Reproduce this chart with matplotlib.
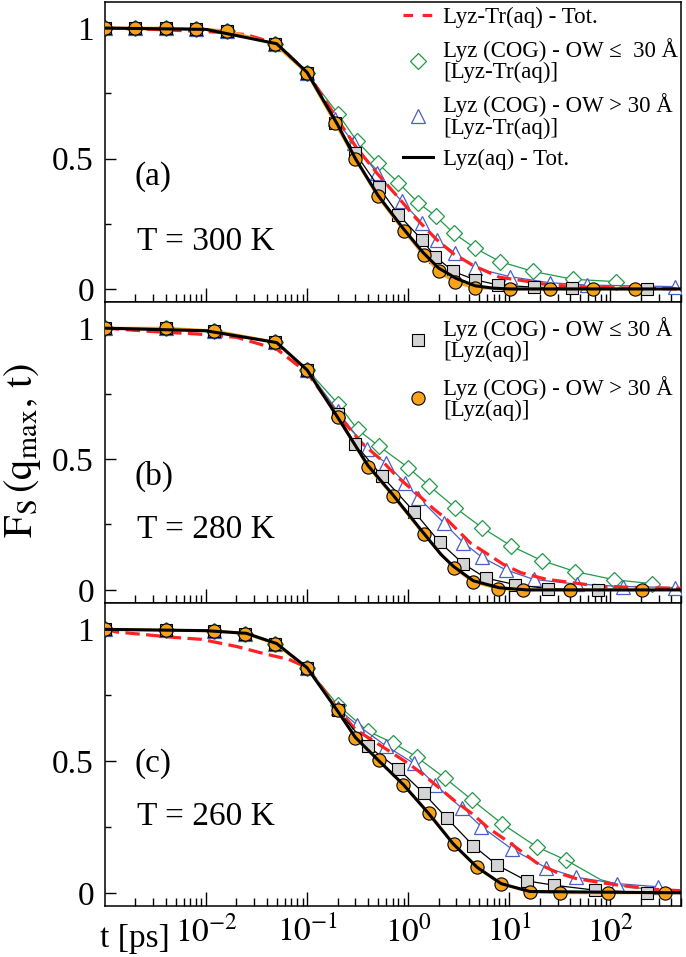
import numpy as np
import matplotlib
matplotlib.use("Agg")
import matplotlib.pyplot as plt
from matplotlib.lines import Line2D
from matplotlib.ticker import FixedLocator, NullFormatter, FixedFormatter

plt.rcParams['font.family'] = ['Liberation Serif', 'DejaVu Serif']
plt.rcParams['mathtext.fontset'] = 'stix'

# ---------------- data: T = 300 K ----------------
t_circ_300 = [0.001, 0.002, 0.004, 0.008, 0.016, 0.048, 0.1, 0.19, 0.3, 0.5, 0.9, 1.42, 2.0, 2.9, 4.6, 10.2, 25, 68, 174]
F_circ_300 = [1.0, 1.0, 1.0, 0.997, 0.99, 0.938, 0.827, 0.635, 0.499, 0.355, 0.224, 0.131, 0.067, 0.026, 0.004, 0.0, 0.0, 0.0, 0.0]
t_sq_300 = [0.001, 0.002, 0.004, 0.008, 0.016, 0.048, 0.1, 0.19, 0.3, 0.51, 0.80, 1.37, 1.85, 2.8, 4.6, 7.8, 17.4, 42, 230]
F_sq_300 = [1.0, 1.0, 1.0, 0.997, 0.99, 0.938, 0.827, 0.635, 0.52, 0.391, 0.285, 0.188, 0.124, 0.067, 0.035, 0.015, 0.007, 0.003, 0.0]
t_dia_300 = [0.001, 0.002, 0.004, 0.008, 0.016, 0.048, 0.1, 0.204, 0.31, 0.497, 0.80, 1.26, 1.89, 2.81, 4.6, 8.1, 17.2, 43, 115]
F_dia_300 = [1.0, 1.0, 1.0, 0.997, 0.99, 0.938, 0.827, 0.669, 0.567, 0.483, 0.407, 0.33, 0.278, 0.214, 0.156, 0.105, 0.067, 0.037, 0.028]
t_tri_300 = [0.001, 0.002, 0.004, 0.008, 0.016, 0.048, 0.1, 0.19, 0.29, 0.49, 0.86, 1.37, 1.92, 2.92, 4.6, 10.2, 25, 59, 440]
F_tri_300 = [1.0, 1.0, 1.0, 0.997, 0.99, 0.938, 0.827, 0.65, 0.56, 0.445, 0.336, 0.253, 0.188, 0.137, 0.080, 0.047, 0.024, 0.015, 0.009]
t_red_300 = [0.001, 0.003, 0.006, 0.012, 0.025, 0.05, 0.1, 0.21, 0.31, 0.5, 0.8, 1.2, 1.9, 2.8, 4.4, 8, 13, 25, 60, 200, 500]
F_red_300 = [1.0, 0.995, 0.99, 0.985, 0.975, 0.94, 0.83, 0.637, 0.54, 0.44, 0.35, 0.27, 0.19, 0.135, 0.09, 0.045, 0.033, 0.015, 0.007, 0.002, 0.0]
t_blk_300 = [0.001, 0.01, 0.05, 0.1, 0.2, 0.3, 0.5, 0.9, 1.4, 2.0, 3.0, 4.6, 7, 10, 500]
F_blk_300 = [1.0, 0.995, 0.94, 0.83, 0.63, 0.5, 0.36, 0.23, 0.14, 0.08, 0.04, 0.012, 0.003, 0.0, 0.0]

# ---------------- data: T = 280 K ----------------
t_circ_280 = [0.001, 0.004, 0.012, 0.048, 0.1, 0.2, 0.40, 0.71, 1.42, 2.81, 4.4, 7.8, 13.8, 40, 205]
F_circ_280 = [1.0, 1.0, 0.99, 0.947, 0.842, 0.662, 0.471, 0.359, 0.213, 0.085, 0.031, 0.005, 0.0, 0.0, 0.0]
t_sq_280 = [0.001, 0.004, 0.012, 0.048, 0.1, 0.2, 0.30, 0.55, 1.15, 2.04, 3.5, 5.9, 11.5, 24, 76]
F_sq_280 = [1.0, 1.0, 0.99, 0.947, 0.842, 0.672, 0.556, 0.435, 0.298, 0.183, 0.10, 0.045, 0.02, 0.005, 0.0]
t_dia_280 = [0.001, 0.004, 0.012, 0.048, 0.1, 0.204, 0.315, 0.51, 1.0, 1.62, 2.92, 5.37, 10.4, 21, 45, 109, 258]
F_dia_280 = [1.0, 1.0, 0.99, 0.947, 0.842, 0.709, 0.613, 0.55, 0.467, 0.397, 0.314, 0.238, 0.168, 0.112, 0.07, 0.039, 0.024]
t_tri_280 = [0.001, 0.004, 0.012, 0.048, 0.1, 0.2, 0.39, 0.6, 0.92, 1.26, 2.24, 3.5, 5.4, 9.2, 17.5, 47, 134, 436]
F_tri_280 = [1.0, 1.0, 0.99, 0.947, 0.842, 0.683, 0.537, 0.486, 0.41, 0.353, 0.257, 0.181, 0.124, 0.077, 0.04, 0.022, 0.013, 0.009]
t_red_280 = [0.001, 0.003, 0.008, 0.02, 0.05, 0.1, 0.2, 0.35, 0.53, 0.77, 1.2, 1.78, 2.4, 4.1, 6.5, 8.7, 13, 23, 54, 89, 250, 500]
F_red_280 = [1.0, 0.987, 0.978, 0.965, 0.92, 0.83, 0.67, 0.56, 0.50, 0.434, 0.37, 0.31, 0.27, 0.18, 0.13, 0.098, 0.066, 0.041, 0.022, 0.013, 0.008, 0.006]
t_blk_280 = [0.001, 0.01, 0.05, 0.1, 0.2, 0.4, 0.7, 1.4, 2.1, 2.8, 4.4, 8, 15, 500]
F_blk_280 = [1.0, 0.99, 0.945, 0.84, 0.66, 0.475, 0.365, 0.22, 0.136, 0.09, 0.035, 0.008, 0.0, 0.0]

# ---------------- data: T = 260 K ----------------
t_circ_260 = [0.001, 0.004, 0.012, 0.0245, 0.048, 0.1, 0.2, 0.3, 0.51, 0.885, 1.62, 2.81, 4.8, 8.3, 16, 32, 94, 351]
F_circ_260 = [1.0, 0.997, 0.994, 0.984, 0.946, 0.854, 0.693, 0.588, 0.505, 0.41, 0.302, 0.185, 0.097, 0.033, 0.004, 0.0, 0.0, 0.0]
t_sq_260 = [0.001, 0.004, 0.012, 0.0245, 0.048, 0.1, 0.2, 0.40, 0.80, 1.42, 2.42, 4.4, 7.6, 15, 27.6, 71, 230]
F_sq_260 = [1.0, 0.997, 0.994, 0.984, 0.946, 0.854, 0.693, 0.556, 0.47, 0.378, 0.283, 0.179, 0.105, 0.045, 0.029, 0.01, 0.0]
t_dia_260 = [0.001, 0.004, 0.012, 0.0245, 0.048, 0.1, 0.2, 0.4, 0.71, 1.22, 2.32, 4.27, 8.5, 18.6, 36.6]
F_dia_260 = [1.0, 0.997, 0.994, 0.984, 0.946, 0.854, 0.714, 0.613, 0.569, 0.515, 0.435, 0.353, 0.262, 0.175, 0.124]
t_dia_tail_260 = [36.6, 80, 155, 500]
F_dia_tail_260 = [0.124, 0.05, 0.02, 0.008]
t_tri_260 = [0.001, 0.004, 0.012, 0.0245, 0.048, 0.1, 0.2, 0.31, 0.6, 1.13, 1.85, 3.4, 5.3, 10.7, 23, 46, 117, 296]
F_tri_260 = [1.0, 0.997, 0.994, 0.984, 0.946, 0.854, 0.70, 0.638, 0.558, 0.492, 0.41, 0.321, 0.251, 0.165, 0.096, 0.059, 0.035, 0.023]
t_red_260 = [0.001, 0.0013, 0.005, 0.009, 0.02, 0.04, 0.066, 0.1, 0.2, 0.3, 0.46, 1.05, 1.5, 2.0, 2.95, 4.3, 6.2, 10.2, 18.6, 30, 45, 71, 121, 280, 500]
F_red_260 = [1.0, 0.99, 0.969, 0.962, 0.935, 0.905, 0.886, 0.855, 0.70, 0.62, 0.575, 0.486, 0.44, 0.40, 0.346, 0.30, 0.246, 0.189, 0.114, 0.076, 0.055, 0.042, 0.029, 0.013, 0.008]
t_blk_260 = [0.001, 0.01, 0.025, 0.05, 0.1, 0.2, 0.3, 0.5, 0.9, 1.6, 2.8, 4.8, 8.3, 16, 500]
F_blk_260 = [1.0, 0.995, 0.985, 0.946, 0.854, 0.69, 0.59, 0.505, 0.41, 0.30, 0.185, 0.097, 0.035, 0.005, 0.0]

panel_letters = ['(a)', '(b)', '(c)']
panel_temps = ['T = 300 K', 'T = 280 K', 'T = 260 K']
x_tick_values = [1e-2, 1e-1, 1e0, 1e1, 1e2]
x_tick_labels = [r'$10^{-2}$', r'$10^{-1}$', r'$10^{0}$', r'$10^{1}$', r'$10^{2}$']
y_tick_values = [0, 0.5, 1]
y_tick_labels = ['0', '0.5', '1']

labels_a = ['Lyz-Tr(aq) - Tot.',
            'Lyz (COG) - OW \u2264  30 \u00c5\n[Lyz-Tr(aq)]',
            'Lyz (COG) - OW > 30 \u00c5\n[Lyz-Tr(aq)]',
            'Lyz(aq) - Tot.']
labels_b = ['Lyz (COG) - OW \u2264 30 \u00c5\n[Lyz(aq)]',
            'Lyz (COG) - OW > 30 \u00c5\n[Lyz(aq)]']

# ---------------- styles ----------------
C_RED = '#ff2222'
C_GREEN = '#22994a'
C_BLUE = '#4a5fc4'
C_ORANGE = '#f7a21b'
C_GREY = '#d4d4d4'

W, H = 686, 957
fig = plt.figure(figsize=(W / 100, H / 100), dpi=100)

left_px, right_px = 105, 681
bounds = [(2, 302), (302, 603), (603, 906)]

data = [
    (t_circ_300, F_circ_300, t_sq_300, F_sq_300, t_dia_300, F_dia_300, t_tri_300, F_tri_300, t_red_300, F_red_300, t_blk_300, F_blk_300),
    (t_circ_280, F_circ_280, t_sq_280, F_sq_280, t_dia_280, F_dia_280, t_tri_280, F_tri_280, t_red_280, F_red_280, t_blk_280, F_blk_280),
    (t_circ_260, F_circ_260, t_sq_260, F_sq_260, t_dia_260, F_dia_260, t_tri_260, F_tri_260, t_red_260, F_red_260, t_blk_260, F_blk_260),
]

letter_y = [0.39, 0.392, 0.443]
temp_y = [0.173, 0.215, 0.267]

axes = []
for i, (top, bot) in enumerate(bounds):
    ax = fig.add_axes([left_px / W, 1 - bot / H, (right_px - left_px) / W, (bot - top) / H])
    axes.append(ax)
    (tc, Fc, ts, Fs, td, Fd, tt, Ft, tr, Fr, tb, Fb) = data[i]

    ax.plot(td, Fd, color=C_GREEN, lw=0.9, marker='D', ms=8.3, mfc='white', mec=C_GREEN, mew=0.9, zorder=2)
    if i == 2:
        ax.plot(t_dia_tail_260, F_dia_tail_260, color=C_GREEN, lw=0.9, zorder=2)
    ax.plot(tt, Ft, color=C_BLUE, lw=0.9, marker='^', ms=10, mfc='white', mec=C_BLUE, mew=0.9, zorder=3)
    ax.plot(tr, Fr, color=C_RED, lw=2.3, ls=(0, (4.5, 2)), zorder=4)
    ax.plot(ts, Fs, color='black', lw=0.9, marker='s', ms=8, mfc=C_GREY, mec='black', mew=0.8, zorder=5)
    ax.plot(tc, Fc, color=C_ORANGE, lw=2.0, marker='o', ms=9.5, mfc=C_ORANGE, mec='black', mew=0.8, zorder=6)
    ax.plot(tb, Fb, color='black', lw=2.2, zorder=7)

    ax.set_xscale('log')
    ax.set_xlim(1e-3, 500)
    ax.set_ylim(-0.05, 1.1)

    ax.xaxis.set_major_locator(FixedLocator(x_tick_values))
    minors = [m * 10.0 ** e for e in range(-3, 3) for m in range(2, 10)]
    ax.xaxis.set_minor_locator(FixedLocator(minors))
    ax.xaxis.set_minor_formatter(NullFormatter())
    if i == 2:
        ax.xaxis.set_major_formatter(FixedFormatter(x_tick_labels))
    else:
        ax.xaxis.set_major_formatter(NullFormatter())

    ax.yaxis.set_major_locator(FixedLocator(y_tick_values))
    ax.yaxis.set_major_formatter(FixedFormatter(y_tick_labels))
    ax.yaxis.set_minor_locator(FixedLocator([0.25, 0.75]))

    ax.tick_params(axis='x', which='major', direction='in', length=10, width=1, labelsize=24, pad=7,
                   top=False, bottom=True)
    ax.tick_params(axis='x', which='minor', direction='in', length=6, width=1, top=False, bottom=True)
    ax.tick_params(axis='y', which='major', direction='in', length=8, width=1, labelsize=24, pad=8,
                   left=True, right=False)
    ax.tick_params(axis='y', which='minor', direction='in', length=4, width=1, left=True, right=False)

    for sp in ax.spines.values():
        sp.set_linewidth(1.1)

    ax.text(0.052, letter_y[i], panel_letters[i], transform=ax.transAxes, fontsize=24,
            ha='left', va='baseline')
    ax.text(0.055, temp_y[i], panel_temps[i], transform=ax.transAxes, fontsize=24,
            ha='left', va='baseline')

# legends
h_a = [Line2D([], [], color=C_RED, lw=2.3, ls=(0, (3, 3))),
       Line2D([], [], ls='none', marker='D', ms=8.3, mfc='white', mec=C_GREEN, mew=0.9),
       Line2D([], [], ls='none', marker='^', ms=10, mfc='white', mec=C_BLUE, mew=0.9),
       Line2D([], [], color='black', lw=2.2)]
leg_a = axes[0].legend(h_a, labels_a, loc='upper left', bbox_to_anchor=(0.517, 0.985), frameon=False,
                       fontsize=16.5, handlelength=1.3, handletextpad=0.45, labelspacing=0.45,
                       borderpad=0, borderaxespad=0)
for t in leg_a.get_texts():
    t.set_linespacing(1.0)

h_b = [Line2D([], [], ls='none', marker='s', ms=8, mfc=C_GREY, mec='black', mew=0.8),
       Line2D([], [], ls='none', marker='o', ms=9.5, mfc=C_ORANGE, mec='black', mew=0.8)]
leg_b = axes[1].legend(h_b, labels_b, loc='upper left', bbox_to_anchor=(0.517, 0.95), frameon=False,
                       fontsize=16.5, handlelength=1.3, handletextpad=0.45, labelspacing=0.6,
                       borderpad=0, borderaxespad=0)
for t in leg_b.get_texts():
    t.set_linespacing(1.0)

fig.text(2 / W, 1 - 450 / H, r'$\mathrm{F_S\,(q_{max},\,t)}$', rotation=90, fontsize=29,
         ha='left', va='center')
fig.text(100 / W, 1 - 947 / H, 't [ps]', fontsize=24, ha='left', va='baseline')

fig.savefig('out.png', dpi=100)
